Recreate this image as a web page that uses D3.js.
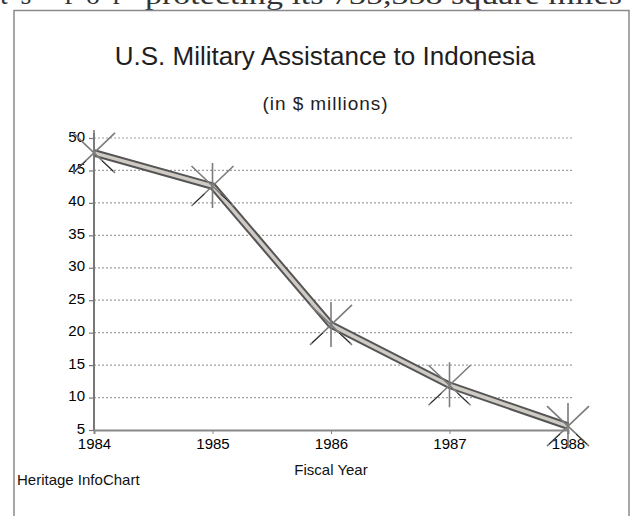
<!DOCTYPE html>
<html>
<head>
<meta charset="utf-8">
<script src="https://cdn.jsdelivr.net/npm/d3@7"></script>
<style>
  html, body { margin: 0; padding: 0; background: #fff; }
  svg { display: block; font-family: "Liberation Sans", Arial, sans-serif; }
</style>
</head>
<body>
<div id="vis"></div>
<script>
// fiscal years and assistance in $ millions
var years = [1984, 1985, 1986, 1987, 1988];
var aid = [47.7, 42.6, 21.2, 11.9, 5.6];
var yTicks = [5, 10, 15, 20, 25, 30, 35, 40, 45, 50];

var title = "U.S. Military Assistance to Indonesia";
var subtitle = "(in $ millions)";
var xLabel = "Fiscal Year";
var credit = "Heritage InfoChart";
var pageText = ["ts for", "protecting its 735,358 square miles"];

var width = 631, height = 516;

var svg = d3.select("#vis").append("svg")
    .attr("width", width)
    .attr("height", height);

var x = d3.scaleLinear().domain([1984, 1988]).range([94, 568]);
var y = d3.scaleLinear().domain([5, 50]).range([430, 138]);

// bit of the article text above the chart, cut by the scan
var serif = "'Liberation Serif', 'DejaVu Serif', serif";
svg.append("text")
    .attr("x", 0).attr("y", 4)
    .attr("font-family", serif)
    .attr("font-size", 28)
    .attr("textLength", 122)
    .attr("lengthAdjust", "spacing")
    .attr("fill", "#333")
    .text(pageText[0]);
svg.append("text")
    .attr("x", 145).attr("y", 4)
    .attr("font-family", serif)
    .attr("font-size", 28)
    .attr("textLength", 477)
    .attr("lengthAdjust", "spacingAndGlyphs")
    .attr("fill", "#333")
    .text(pageText[1]);

// frame of the infochart
svg.append("path")
    .attr("d", "M14,516 V10.5 H629 V516")
    .attr("fill", "none")
    .attr("stroke", "#8a8a8a")
    .attr("stroke-width", 1.5);

svg.append("text")
    .attr("x", 325).attr("y", 65)
    .attr("text-anchor", "middle")
    .attr("font-size", 26)
    .attr("fill", "#1e1e1e")
    .text(title);

svg.append("text")
    .attr("x", 325).attr("y", 110)
    .attr("text-anchor", "middle")
    .attr("font-size", 19)
    .attr("textLength", 125)
    .attr("lengthAdjust", "spacing")
    .attr("fill", "#1e1e1e")
    .text(subtitle);

// dotted grid
svg.append("g")
    .selectAll("line")
    .data(yTicks.filter(function(d){ return d > 5; }))
    .enter().append("line")
    .attr("x1", 94).attr("x2", 573)
    .attr("y1", function(d){ return y(d); })
    .attr("y2", function(d){ return y(d); })
    .attr("stroke", "#a0a0a0")
    .attr("stroke-width", 1.2)
    .attr("stroke-dasharray", "2,2");

// y axis
var yAxis = d3.axisLeft(y).tickValues(yTicks).tickSize(5).tickPadding(4);
var gy = svg.append("g")
    .attr("transform", "translate(94,0)")
    .call(yAxis);
gy.select(".domain").remove();
gy.selectAll(".tick line").attr("stroke", "#777").attr("stroke-width", 1.2);
gy.selectAll(".tick text")
    .attr("font-size", 15)
    .attr("font-family", "'Liberation Sans', Arial, sans-serif")
    .attr("fill", "#000")
    .attr("dy", "0.2em");
gy.append("line")
    .attr("x1", 0).attr("x2", 0)
    .attr("y1", y(5)).attr("y2", 133)
    .attr("stroke", "#777")
    .attr("stroke-width", 2);

// x axis
var xAxis = d3.axisBottom(x).tickValues(years).tickFormat(d3.format("d")).tickSize(4).tickPadding(4);
var gx = svg.append("g")
    .attr("transform", "translate(0," + y(5) + ")")
    .call(xAxis);
gx.select(".domain").attr("stroke", "#888").attr("stroke-width", 2);
gx.selectAll(".tick line").attr("stroke", "#888");
gx.selectAll(".tick text")
    .attr("font-size", 15)
    .attr("font-family", "'Liberation Sans', Arial, sans-serif")
    .attr("fill", "#000");

svg.append("text")
    .attr("x", 331).attr("y", 475)
    .attr("text-anchor", "middle")
    .attr("font-size", 15)
    .attr("fill", "#111")
    .text(xLabel);

svg.append("text")
    .attr("x", 17).attr("y", 485)
    .attr("font-size", 15)
    .attr("fill", "#111")
    .text(credit);

// the banded line
var points = years.map(function(d, i){ return [d, aid[i]]; });
var line = d3.line()
    .x(function(d){ return x(d[0]); })
    .y(function(d){ return y(d[1]); });

svg.append("path")
    .datum(points)
    .attr("d", line)
    .attr("fill", "none")
    .attr("stroke", "#555")
    .attr("stroke-width", 7.5)
    .attr("stroke-linejoin", "round");
svg.append("path")
    .datum(points)
    .attr("d", line)
    .attr("fill", "none")
    .attr("stroke", "#cfcac4")
    .attr("stroke-width", 3.5)
    .attr("stroke-linejoin", "round");

// asterisk markers
var marks = svg.append("g")
    .selectAll("g")
    .data(points)
    .enter().append("g")
    .attr("transform", function(d){ return "translate(" + x(d[0]) + "," + y(d[1]) + ")"; });

marks.append("path")
    .attr("d", "M0,-23V22M-21,-20L21,20M-21,20L21,-20")
    .attr("fill", "none")
    .attr("stroke", "#7c7c7c")
    .attr("stroke-width", 1.6);

marks.append("path")
    .attr("d", "M-8,8L-19,18M8,8L19,18")
    .attr("fill", "none")
    .attr("stroke", "#222")
    .attr("stroke-width", 1);
</script>
</body>
</html>
